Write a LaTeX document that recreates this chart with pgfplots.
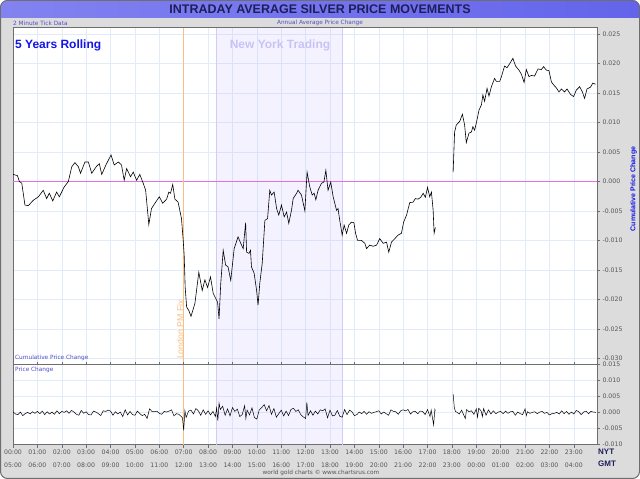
\documentclass[border=0pt]{standalone}
\usepackage{pgfplots}
\pgfplotsset{compat=1.18}
\usepackage{fontspec}
\setmainfont{Liberation Sans}
\newfontfamily\dejavu{DejaVu Sans}
\definecolor{bggray}{RGB}{220,220,220}
\definecolor{titlecol}{RGB}{30,30,90}
\definecolor{tickgray}{RGB}{85,85,85}
\definecolor{bluetxt}{RGB}{20,20,230}
\definecolor{smallblue}{RGB}{80,80,200}
\definecolor{nytxt}{RGB}{200,195,245}
\definecolor{gridblue}{RGB}{226,236,248}
\definecolor{framegray}{RGB}{110,110,110}
\definecolor{zeropink}{RGB}{228,110,228}
\definecolor{fixorange}{RGB}{248,190,130}
\definecolor{nyfill}{RGB}{140,120,255}
\definecolor{nyedge}{RGB}{205,205,245}
\pgfplotsset{
  commonax/.style={
    scale only axis, width=584pt, xmin=0, xmax=23.95,
    axis background/.style={fill=white},
    axis line style={framegray, line width=0.6pt},
    grid=major, major grid style={gridblue, line width=0.5pt},
    xtick={0,1,...,23},
    ytick pos=right, yticklabel pos=right,
    scaled y ticks=false,
    tick align=outside, major tick length=3pt,
    every tick/.style={framegray, line width=0.5pt},
    yticklabel style={/pgf/number format/.cd, fixed, fixed zerofill, precision=3, assume math mode=true, /tikz/.cd, font=\dejavu\fontsize{6.2}{7}\selectfont, text=tickgray, xshift=-1pt},
  }
}
\begin{document}
\begin{tikzpicture}[x=1pt,y=1pt]
\fill[white] (0,0) rectangle (640,479);
\filldraw[fill=bggray, draw=framegray, line width=1pt, rounded corners=7pt] (0.5,0.5) rectangle (639.5,478.5);
\begin{scope}
\clip[rounded corners=7pt] (0.5,0.5) rectangle (639.5,478.5);
\shade[left color={rgb,255:red,130;green,130;blue,240}, middle color={rgb,255:red,212;green,212;blue,255}, right color={rgb,255:red,100;green,100;blue,235}] (0,461.5) rectangle (640,479);
\end{scope}
\draw[framegray, line width=0.6pt, rounded corners=7pt] (0.5,461.5) -- (0.5,478.5) -- (639.5,478.5) -- (639.5,461.5);
\node[text=titlecol, font=\bfseries\fontsize{12.5}{14}\selectfont] at (320,469.5) {INTRADAY AVERAGE SILVER PRICE MOVEMENTS};

% upper panel
\begin{axis}[commonax, at={(13pt,114.3pt)}, anchor=south west, height=337pt,
  ymin=-0.0311, ymax=0.0261,
  ytick={-0.03,-0.025,-0.02,-0.015,-0.01,-0.005,0,0.005,0.01,0.015,0.02,0.025},
  xticklabels={}, xtick style={draw=none}]
\fill[nyfill, fill opacity=0.09] (axis cs:8.33,-0.0311) rectangle (axis cs:13.5,0.0261);
\draw[nyedge, line width=0.6pt] (axis cs:8.33,-0.0311) -- (axis cs:8.33,0.0261);
\draw[nyedge, line width=0.6pt] (axis cs:13.5,-0.0311) -- (axis cs:13.5,0.0261);
\draw[draw=zeropink, line width=1pt] (axis cs:0,0) -- (axis cs:23.95,0);
\draw[draw=fixorange, line width=1pt] (axis cs:7,-0.0311) -- (axis cs:7,0.0261);
\node[rotate=90, anchor=south west, text=fixorange, font=\fontsize{8.8}{10}\selectfont, inner sep=0pt, xshift=-1.5pt] at (axis cs:7,-0.0299) {London PM Fix};
\addplot[black, line width=0.6pt] coordinates {
(0.00,0.0012)(0.18,0.0010)(0.26,0.0000)(0.36,-0.0003)(0.49,-0.0040)(0.63,-0.0041)(0.83,-0.0032)(1.04,-0.0026)(1.24,-0.0015)(1.38,-0.0029)(1.49,-0.0020)(1.63,-0.0033)(1.79,-0.0018)(1.90,-0.0026)(2.09,-0.0010)(2.27,0.0000)(2.41,0.0025)(2.54,0.0032)(2.68,0.0025)(2.77,0.0014)(2.95,0.0033)(3.09,0.0033)(3.23,0.0014)(3.43,0.0026)(3.54,0.0030)(3.64,0.0012)(3.81,0.0028)(4.02,0.0045)(4.15,0.0028)(4.32,0.0033)(4.45,0.0028)(4.56,0.0002)(4.66,0.0022)(4.82,0.0008)(4.93,0.0016)(5.07,0.0002)(5.20,0.0012)(5.34,-0.0003)(5.44,-0.0015)(5.57,-0.0073)(5.68,-0.0046)(5.82,-0.0037)(6.00,-0.0026)(6.14,-0.0037)(6.30,-0.0030)(6.39,-0.0018)(6.46,-0.0020)(6.55,-0.0005)(6.64,-0.0030)(6.77,-0.0035)(6.91,-0.0063)(6.98,-0.0100)(7.02,-0.0125)(7.06,-0.0179)(7.12,-0.0213)(7.21,-0.0219)(7.30,-0.0229)(7.46,-0.0207)(7.62,-0.0154)(7.76,-0.0185)(7.87,-0.0167)(7.98,-0.0180)(8.10,-0.0162)(8.21,-0.0190)(8.39,-0.0205)(8.45,-0.0233)(8.52,-0.0173)(8.62,-0.0117)(8.72,-0.0142)(8.82,-0.0145)(8.93,-0.0168)(9.07,-0.0114)(9.23,-0.0094)(9.34,-0.0105)(9.44,-0.0114)(9.54,-0.0070)(9.58,-0.0120)(9.68,-0.0122)(9.74,-0.0117)(9.78,-0.0145)(9.89,-0.0156)(9.99,-0.0185)(10.05,-0.0210)(10.12,-0.0173)(10.22,-0.0139)(10.33,-0.0066)(10.44,-0.0063)(10.53,-0.0015)(10.60,-0.0023)(10.71,-0.0018)(10.81,-0.0046)(10.90,-0.0057)(11.01,-0.0040)(11.12,-0.0060)(11.22,-0.0052)(11.31,-0.0071)(11.42,-0.0049)(11.49,-0.0029)(11.63,-0.0020)(11.69,-0.0015)(11.83,-0.0023)(11.97,-0.0050)(12.06,0.0016)(12.17,-0.0009)(12.27,-0.0023)(12.35,-0.0020)(12.42,-0.0031)(12.51,-0.0015)(12.65,-0.0003)(12.75,-0.0001)(12.83,0.0019)(12.92,-0.0015)(13.03,-0.0001)(13.13,-0.0026)(13.27,-0.0049)(13.33,-0.0046)(13.40,-0.0066)(13.50,-0.0091)(13.58,-0.0074)(13.68,-0.0088)(13.77,-0.0074)(13.88,-0.0069)(13.98,-0.0070)(14.05,-0.0088)(14.13,-0.0100)(14.29,-0.0100)(14.43,-0.0105)(14.50,-0.0114)(14.63,-0.0108)(14.77,-0.0110)(14.91,-0.0108)(15.04,-0.0097)(15.18,-0.0105)(15.32,-0.0103)(15.41,-0.0120)(15.52,-0.0103)(15.66,-0.0097)(15.79,-0.0091)(15.93,-0.0088)(16.02,-0.0069)(16.14,-0.0057)(16.27,-0.0036)(16.41,-0.0035)(16.50,-0.0029)(16.61,-0.0030)(16.72,-0.0027)(16.82,-0.0020)(16.91,-0.0027)(17.00,-0.0010)(17.09,-0.0026)(17.16,-0.0018)(17.23,-0.0049)(17.27,-0.0088)(17.32,-0.0078)
};
\addplot[black, line width=0.6pt] coordinates {
(18.05,0.0016)(18.11,0.0084)(18.18,0.0096)(18.32,0.0102)(18.43,0.0114)(18.52,0.0096)(18.59,0.0066)(18.70,0.0082)(18.80,0.0084)(18.86,0.0093)(18.93,0.0087)(19.00,0.0099)(19.11,0.0121)(19.21,0.0130)(19.27,0.0147)(19.34,0.0136)(19.44,0.0158)(19.52,0.0145)(19.62,0.0161)(19.75,0.0175)(19.82,0.0170)(19.96,0.0170)(20.03,0.0178)(20.16,0.0196)(20.26,0.0193)(20.37,0.0200)(20.50,0.0209)(20.61,0.0196)(20.75,0.0189)(20.85,0.0182)(20.96,0.0168)(21.05,0.0190)(21.16,0.0178)(21.26,0.0180)(21.39,0.0179)(21.53,0.0191)(21.67,0.0190)(21.76,0.0195)(21.87,0.0189)(21.98,0.0188)(22.08,0.0169)(22.17,0.0164)(22.28,0.0159)(22.39,0.0152)(22.49,0.0157)(22.62,0.0152)(22.72,0.0157)(22.86,0.0148)(22.99,0.0144)(23.10,0.0155)(23.24,0.0161)(23.35,0.0152)(23.44,0.0141)(23.54,0.0157)(23.68,0.0160)(23.78,0.0167)(23.89,0.0165)
};
\end{axis}

% lower panel
\begin{axis}[commonax, at={(13pt,34.3pt)}, anchor=south west, height=80pt,
  ymin=-0.010, ymax=0.015,
  ytick={-0.01,-0.005,0,0.005,0.01,0.015},
  xticklabels={{00:00\\05:00},{01:00\\06:00},{02:00\\07:00},{03:00\\08:00},{04:00\\09:00},{05:00\\10:00},{06:00\\11:00},{07:00\\12:00},{08:00\\13:00},{09:00\\14:00},{10:00\\15:00},{11:00\\16:00},{12:00\\17:00},{13:00\\18:00},{14:00\\19:00},{15:00\\20:00},{16:00\\21:00},{17:00\\22:00},{18:00\\23:00},{19:00\\00:00},{20:00\\01:00},{21:00\\02:00},{22:00\\03:00},{23:00\\04:00}},
  xticklabel style={font=\dejavu\fontsize{6.2}{12.5}\selectfont, text=tickgray, align=center, yshift=1pt}]
\fill[nyfill, fill opacity=0.09] (axis cs:8.33,-0.01) rectangle (axis cs:13.5,0.015);
\draw[nyedge, line width=0.6pt] (axis cs:8.33,-0.01) -- (axis cs:8.33,0.015);
\draw[nyedge, line width=0.6pt] (axis cs:13.5,-0.01) -- (axis cs:13.5,0.015);
\draw[draw=fixorange, line width=1pt] (axis cs:7,-0.01) -- (axis cs:7,0.015);
\addplot[black, line width=0.5pt] coordinates {
(0.0,0.0003)(0.1,-0.0004)(0.2,-0.0006)(0.3,0.0002)(0.4,-0.0009)(0.5,-0.0003)(0.6,0.0001)(0.7,-0.0004)(0.8,0.0003)(0.9,-0.0002)(1.0,0.0004)(1.1,-0.0003)(1.2,0.0005)(1.3,-0.0006)(1.4,0.0003)(1.5,-0.0004)(1.6,0.0002)(1.7,-0.0005)(1.8,0.0006)(1.9,-0.0003)(2.0,0.0004)(2.1,0.0001)(2.2,0.0006)(2.3,-0.0002)(2.4,0.0007)(2.5,0.0002)(2.6,-0.0005)(2.7,-0.0008)(2.8,0.0007)(2.9,-0.0002)(3.0,0.0003)(3.1,-0.0006)(3.2,-0.0007)(3.3,0.0005)(3.4,0.0002)(3.5,-0.0003)(3.6,-0.0009)(3.7,0.0006)(3.8,0.0004)(3.9,0.0008)(4.0,0.0005)(4.1,-0.0008)(4.2,0.0003)(4.3,-0.0004)(4.4,0.0002)(4.5,-0.0012)(4.6,0.0009)(4.7,-0.0007)(4.8,0.0004)(4.9,-0.0006)(5.0,-0.0008)(5.1,0.0005)(5.2,-0.0003)(5.3,-0.0009)(5.4,-0.0005)(5.5,-0.0018)(5.6,0.0012)(5.7,0.0004)(5.8,0.0003)(5.9,0.0005)(6.0,-0.0002)(6.1,-0.0005)(6.2,0.0004)(6.3,0.0002)(6.4,0.0005)(6.5,0.0009)(6.6,-0.0010)(6.7,-0.0003)(6.8,-0.0005)(6.9,-0.0012)(6.95,-0.0016)(7.0,-0.0055)(7.05,0.0006)(7.1,-0.0015)(7.2,0.0005)(7.3,0.0008)(7.4,-0.0004)(7.5,0.0013)(7.6,0.0006)(7.7,-0.0008)(7.8,0.0009)(7.9,-0.0005)(8.0,0.0006)(8.1,-0.0007)(8.2,0.0004)(8.3,-0.0012)(8.35,0.0015)(8.4,-0.0025)(8.45,0.0030)(8.5,0.0010)(8.6,0.0020)(8.7,-0.0008)(8.8,0.0012)(8.9,-0.0010)(9.0,0.0016)(9.1,0.0004)(9.2,0.0011)(9.3,-0.0012)(9.4,-0.0006)(9.5,0.0022)(9.55,-0.0018)(9.6,0.0008)(9.7,-0.0007)(9.8,0.0015)(9.9,-0.0015)(10.0,-0.0020)(10.1,0.0009)(10.2,0.0016)(10.3,0.0025)(10.4,0.0006)(10.5,0.0022)(10.6,-0.0005)(10.7,0.0013)(10.8,-0.0014)(10.9,-0.0003)(11.0,0.0008)(11.1,-0.0010)(11.2,0.0005)(11.3,-0.0009)(11.4,0.0010)(11.5,0.0014)(11.6,0.0004)(11.7,0.0009)(11.8,-0.0006)(11.9,-0.0013)(12.0,-0.0018)(12.05,0.0032)(12.1,-0.0009)(12.2,0.0006)(12.3,-0.0008)(12.4,0.0005)(12.5,-0.0004)(12.6,0.0009)(12.7,0.0006)(12.8,0.0012)(12.9,-0.0016)(13.0,0.0008)(13.1,-0.0010)(13.2,-0.0008)(13.3,0.0007)(13.4,-0.0011)(13.5,-0.0014)(13.6,0.0010)(13.7,-0.0006)(13.8,0.0008)(13.9,0.0003)(14.0,-0.0009)(14.1,-0.0006)(14.2,0.0002)(14.3,-0.0003)(14.4,0.0004)(14.5,-0.0005)(14.6,0.0003)(14.7,-0.0002)(14.8,0.0001)(14.9,0.0003)(15.0,0.0006)(15.1,-0.0004)(15.2,0.0002)(15.3,-0.0003)(15.4,-0.0008)(15.5,0.0009)(15.6,0.0004)(15.7,0.0003)(15.8,-0.0005)(15.9,0.0006)(16.0,0.0009)(16.1,0.0006)(16.2,0.0010)(16.3,-0.0004)(16.4,0.0003)(16.5,0.0004)(16.6,-0.0003)(16.7,0.0005)(16.8,0.0004)(16.9,-0.0006)(17.0,0.0010)(17.1,-0.0012)(17.15,0.0008)(17.2,-0.0015)(17.25,-0.0038)(17.3,0.0010)(17.32,0.0005)
};
\addplot[black, line width=0.5pt] coordinates {
(18.05,0.0058)(18.1,0.0015)(18.15,0.0003)(18.2,0.0002)(18.3,-0.0004)(18.4,0.0008)(18.5,-0.0010)(18.55,-0.0018)(18.6,0.0010)(18.7,0.0003)(18.8,0.0006)(18.9,-0.0005)(19.0,0.0012)(19.05,-0.0014)(19.1,0.0014)(19.2,0.0005)(19.25,-0.0012)(19.3,0.0013)(19.4,-0.0008)(19.5,0.0009)(19.6,-0.0004)(19.7,0.0006)(19.8,-0.0003)(19.9,0.0002)(20.0,0.0004)(20.1,-0.0003)(20.2,0.0005)(20.3,-0.0002)(20.4,0.0003)(20.5,0.0004)(20.6,-0.0008)(20.7,0.0002)(20.8,-0.0003)(20.9,-0.0006)(21.0,0.0012)(21.05,-0.0009)(21.1,0.0003)(21.2,-0.0002)(21.3,0.0001)(21.4,0.0003)(21.5,-0.0003)(21.6,0.0002)(21.7,0.0004)(21.8,-0.0002)(21.9,0.0001)(22.0,-0.0007)(22.1,-0.0003)(22.2,-0.0002)(22.3,0.0001)(22.4,-0.0004)(22.5,0.0006)(22.6,-0.0003)(22.7,0.0004)(22.8,-0.0005)(22.9,0.0002)(23.0,-0.0004)(23.1,0.0007)(23.2,0.0003)(23.3,-0.0006)(23.4,0.0002)(23.5,0.0005)(23.6,-0.0003)(23.7,0.0004)(23.8,0.0002)(23.9,0.0001)
};
\end{axis}

\draw[framegray, line width=1.4pt] (13,114.3) -- (597,114.3);
% texts
\node[anchor=west, text=smallblue, font=\dejavu\fontsize{5.8}{7}\selectfont, inner sep=0pt] at (13,456) {2 Minute Tick Data};
\node[text=smallblue, font=\dejavu\fontsize{5.8}{7}\selectfont, inner sep=0pt] at (320,456) {Annual Average Price Change};
\node[anchor=west, text=bluetxt, font=\bfseries\fontsize{12}{14}\selectfont, inner sep=0pt] at (15,434) {5 Years Rolling};
\node[text=nytxt, font=\bfseries\fontsize{12}{14}\selectfont, inner sep=0pt] at (280,434) {New York Trading};
\node[anchor=west, text=smallblue, font=\dejavu\fontsize{5.8}{7}\selectfont, inner sep=0pt] at (15,121) {Cumulative Price Change};
\node[anchor=west, text=smallblue, font=\dejavu\fontsize{5.8}{7}\selectfont, inner sep=0pt] at (15,109) {Price Change};
\node[rotate=90, text=bluetxt, font=\bfseries\fontsize{7}{8}\selectfont, inner sep=0pt] at (633.5,290) {Cumulative Price Change};
\node[anchor=west, text=titlecol, font=\bfseries\fontsize{8}{9}\selectfont, inner sep=0pt] at (598,27.5) {NYT};
\node[anchor=west, text=titlecol, font=\bfseries\fontsize{8}{9}\selectfont, inner sep=0pt] at (598,15) {GMT};
\node[text=tickgray, font=\dejavu\fontsize{5.8}{7}\selectfont, inner sep=0pt] at (321,6.5) {world gold charts \textcopyright\ www.chartsrus.com};
\end{tikzpicture}
\end{document}
